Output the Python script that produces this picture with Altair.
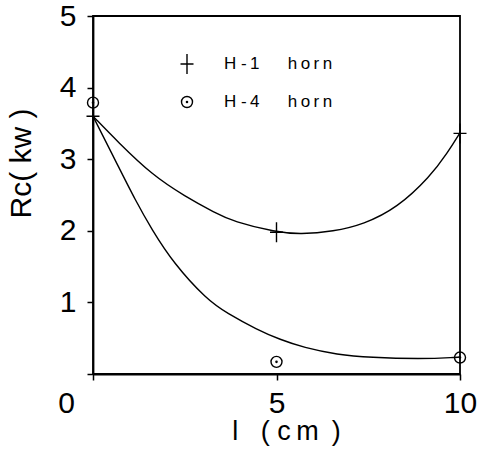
import altair as alt
import pandas as pd

NB = "\u00a0"   # non-breaking space
TH = "\u2009"   # thin space

# Series names (legend labels), letter-spaced like the typed originals
series = [
    "H" + NB + "-" + TH + "1" + NB * 6 + "h" + TH + "o" + TH + "r" + TH + "n",
    "H" + NB + "-" + TH + "4" + NB * 6 + "h" + TH + "o" + TH + "r" + TH + "n",
]

# Measured points: horn length l (cm) vs Rc (kW)
l_pts = [0, 5, 10]
rc_h1 = [3.60, 1.98, 3.36]
rc_h4 = [3.79, 0.17, 0.23]

# Smoothed fit curves through the measurements
curve_h1_x = [0, 0.68, 1.61, 2.51, 3.33, 3.82, 4.99, 5.65, 6.55, 7.37, 8.29, 9.19, 9.66, 10]
curve_h1_y = [3.60, 3.24, 2.78, 2.48, 2.25, 2.13, 1.98, 1.95, 1.99, 2.09, 2.32, 2.76, 3.09, 3.37]
curve_h4_x = [0, 0.69, 1.15, 1.60, 2.19, 3.10, 3.65, 4.47, 5.10, 5.74, 6.65, 7.56, 8.92, 9.88, 10]
curve_h4_y = [3.60, 2.90, 2.43, 2.02, 1.55, 1.04, 0.85, 0.62, 0.48, 0.37, 0.27, 0.23, 0.21, 0.23, 0.24]

x_ticks = [0, 5, 10]
y_ticks = [0, 1, 2, 3, 4, 5]

points = pd.DataFrame({
    "l": l_pts + l_pts,
    "rc": rc_h1 + rc_h4,
    "series": [series[0]] * 3 + [series[1]] * 3,
})
curves = pd.DataFrame({
    "l": curve_h1_x + curve_h4_x,
    "rc": curve_h1_y + curve_h4_y,
    "series": [series[0]] * len(curve_h1_x) + [series[1]] * len(curve_h4_x),
})

FONT = "Liberation Sans"
plus_path = "M-0.65,0L0.65,0M0,-1L0,1"
ring_path = ("M-0.55,0A0.55,0.55 0 1,0 0.55,0A0.55,0.55 0 1,0 -0.55,0"
             "M-0.06,0A0.06,0.06 0 1,0 0.06,0A0.06,0.06 0 1,0 -0.06,0")

x_title = "l" + NB * 3 + "(" + NB + "c" + TH + "m" + NB + TH + ")"
y_title = "Rc(" + NB + "kw" + NB + ")"

x_enc = alt.X(
    "l:Q",
    scale=alt.Scale(domain=[0, 10], nice=False, zero=False),
    axis=alt.Axis(
        values=x_ticks, title=x_title, grid=False, labelFlush=False,
        domainColor="black", domainWidth=1.8, tickColor="black", tickWidth=1.5,
        tickSize=6, labelFontSize=30, labelColor="black", labelPadding=8,
        labelOffset=alt.expr("datum.value == 0 ? -27 : 0"),
        titleFontSize=27, titleFontWeight="normal", titleColor="black",
        titleX=193, titleY=65, titleBaseline="alphabetic",
    ),
)
y_enc = alt.Y(
    "rc:Q",
    scale=alt.Scale(domain=[0, 5], nice=False, zero=False),
    axis=alt.Axis(
        values=y_ticks, title=y_title, grid=False, labelFlush=False,
        labelExpr="datum.value == 0 ? '' : datum.label",
        domainColor="black", domainWidth=1.8, tickColor="black", tickWidth=1.5,
        tickSize=6, labelFontSize=30, labelColor="black", labelPadding=11,
        titleFontSize=30, titleFontWeight="normal", titleColor="black",
        titleX=-72, titleY=147, titleAngle=-90, titleAlign="center",
        titleBaseline="middle",
    ),
)

lines = alt.Chart(curves).mark_line(
    color="black", strokeWidth=1.4, interpolate="basis"
).encode(x=x_enc, y=y_enc, detail="series:N")

markers = alt.Chart(points).mark_point(
    filled=False, color="black", strokeWidth=1.4, opacity=1, size=400, clip=False
).encode(
    x=x_enc,
    y=y_enc,
    shape=alt.Shape(
        "series:N",
        scale=alt.Scale(domain=series, range=[plus_path, ring_path]),
        legend=alt.Legend(
            title=None, orient="none", legendX=83, legendY=37,
            labelFontSize=17, labelColor="black", labelOffset=26, labelLimit=300,
            symbolSize=400, symbolStrokeWidth=1.4, symbolStrokeColor="black",
            symbolFillColor="transparent", rowPadding=14, padding=0,
        ),
    ),
)

chart = (
    alt.layer(lines, markers)
    .properties(
        width=367, height=358, autosize=alt.AutoSizeParams(type="none"),
        padding={"left": 93, "top": 16, "right": 17, "bottom": 78},
        background="white",
    )
    .configure(font=FONT)
    .configure_view(stroke="black", strokeWidth=1.8)
)

chart.save("out.html", embed_options={"renderer": "svg", "actions": False})
